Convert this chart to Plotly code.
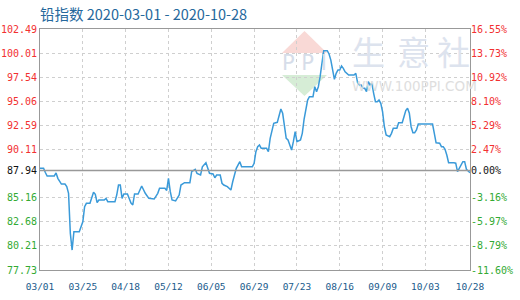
import datetime as dt
import plotly.graph_objects as go

# ---- data ----
start_date = "2020-03-01"
day_offsets = [0, 2, 3, 4, 8, 9, 10, 12, 14, 15, 16, 17, 18, 19, 22, 24, 25, 26, 28, 30,
               31, 32, 33, 36, 37, 38, 42, 43, 44, 45, 46, 47, 49, 50, 51, 52, 53, 55, 57, 59,
               61, 64, 66, 67, 70, 71, 72, 73, 74, 76, 78, 79, 81, 84, 85, 87, 88, 90, 91, 93,
               94, 95, 97, 98, 99, 101, 102, 103, 105, 107, 108, 110, 112, 113, 119, 120, 121, 122, 123, 124,
               127, 128, 129, 131, 133, 134, 135, 136, 137, 138, 139, 140, 141, 142, 143, 144, 146, 147, 148, 150,
               151, 153, 154, 155, 156, 157, 158, 159, 161, 162, 163, 164, 165, 166, 167, 168, 169, 170, 171, 173,
               176, 177, 178, 179, 180, 181, 182, 183, 184, 185, 186, 187, 188, 189, 190, 191, 192, 193, 194, 196,
               197, 198, 200, 201, 203, 204, 205, 206, 207, 208, 209, 210, 211, 212, 220, 221, 222, 224, 225, 226,
               227, 228, 229, 232, 233, 234, 235, 236, 237, 238, 239, 241]
index_values = [88.18, 88.18, 87.75, 87.39, 87.39, 87.70, 87.15, 86.56, 86.56, 86.29, 85.60, 81.50, 79.78, 81.66, 81.66, 82.69, 84.23, 84.58, 84.58, 85.71,
                85.50, 84.65, 84.92, 84.92, 85.09, 84.75, 84.75, 85.43, 86.46, 86.46, 85.09, 85.54, 85.54, 85.09, 84.60, 84.41, 85.54, 85.54, 86.36, 85.61,
                85.09, 85.02, 85.61, 86.12, 86.12, 85.90, 87.15, 85.80, 84.92, 84.82, 85.43, 86.46, 86.70, 86.70, 87.83, 88.08, 87.66, 87.49, 88.34, 88.75,
                88.24, 87.66, 87.60, 87.21, 87.49, 87.49, 86.64, 86.46, 86.29, 85.95, 86.80, 88.18, 88.86, 88.34, 88.34, 88.69, 89.88, 90.40, 90.57, 90.23,
                90.23, 89.88, 91.26, 92.80, 92.90, 93.65, 94.27, 93.83, 92.45, 91.26, 91.09, 90.57, 90.06, 90.91, 91.94, 90.91, 91.09, 91.77, 93.20, 95.19,
                95.53, 95.53, 96.56, 96.05, 96.56, 97.59, 98.79, 100.26, 100.26, 99.92, 99.30, 98.30, 97.32, 97.94, 98.28, 98.28, 98.69, 98.45, 98.10, 97.76,
                97.76, 97.94, 96.97, 96.74, 96.74, 96.40, 96.40, 96.05, 97.08, 96.74, 96.90, 95.88, 95.02, 95.02, 95.19, 94.86, 93.99, 92.45, 91.60, 91.43,
                91.77, 92.29, 92.29, 92.86, 92.86, 93.48, 94.10, 94.34, 93.83, 92.45, 91.84, 91.84, 92.11, 92.73, 92.73, 91.77, 90.80, 90.75, 90.40, 90.40,
                90.13, 89.54, 88.75, 88.75, 88.70, 87.83, 88.18, 88.62, 88.86, 88.86, 88.08, 87.73, 87.94]
base_value = 87.94
y_tick_values = [77.73, 80.21, 82.68, 85.16, 87.94, 90.11, 92.59, 95.06, 97.54, 100.01, 102.49]
y_tick_labels = ["77.73", "80.21", "82.68", "85.16", "87.94", "90.11", "92.59", "95.06", "97.54", "100.01", "102.49"]
pct_tick_labels = ["-11.60%", "-8.79%", "-5.97%", "-3.16%", "0.00%", "2.47%", "5.29%", "8.10%", "10.92%", "13.73%", "16.55%"]
x_tick_dates = ["2020-03-01", "2020-03-25", "2020-04-18", "2020-05-12", "2020-06-05", "2020-06-29",
                "2020-07-23", "2020-08-16", "2020-09-09", "2020-10-03", "2020-10-28"]
x_tick_labels = ["03/01", "03/25", "04/18", "05/12", "06/05", "06/29", "07/23", "08/16", "09/09", "10/03", "10/28"]
title_text = "铅指数 2020-03-01 - 2020-10-28"

# ---- build ----
d0 = dt.date.fromisoformat(start_date)
dates = [(d0 + dt.timedelta(days=d)).isoformat() for d in day_offsets]

RED = "#f23030"
GREEN = "#33aa33"
BLACK = "#111111"


def colored(labels, vals):
    out = []
    for lab, v in zip(labels, vals):
        c = BLACK if abs(v - base_value) < 1e-9 else (RED if v > base_value else GREEN)
        out.append(f'<span style="color:{c}">{lab}</span>')
    return out


fig = go.Figure()
fig.add_trace(go.Scatter(x=dates, y=index_values, mode="lines",
                         line=dict(color="#3a9ad9", width=1.5), hoverinfo="x+y", showlegend=False))
fig.add_trace(go.Scatter(x=dates, y=index_values, mode="lines", yaxis="y2",
                         line=dict(color="rgba(0,0,0,0)", width=0), hoverinfo="skip", showlegend=False))

yr = [y_tick_values[0], y_tick_values[-1]]
mono = "DejaVu Sans Mono"
grid = "#cfcfcf"
axc = "#999999"

fig.update_layout(
    width=520, height=300,
    margin=dict(l=40, r=50, t=29, b=30, autoexpand=False),
    paper_bgcolor="white", plot_bgcolor="white",
    title=dict(text=title_text, x=40 / 520, xanchor="left", y=1 - 15 / 300, yanchor="middle",
               font=dict(family="Noto Sans CJK SC", size=14.5, color="#25689c")),
    xaxis=dict(type="date", range=[x_tick_dates[0], x_tick_dates[-1]], automargin=False,
               tickvals=x_tick_dates, ticktext=x_tick_labels,
               tickfont=dict(family=mono, size=9.5, color="#1a5b8c"),
               ticks="outside", ticklen=8, tickcolor="rgba(0,0,0,0)",
               showgrid=True, gridcolor=grid, griddash="3px,3px", gridwidth=1,
               showline=True, linecolor=axc, linewidth=1, mirror=True, zeroline=False),
    yaxis=dict(range=yr, tickvals=y_tick_values, ticktext=colored(y_tick_labels, y_tick_values),
               tickfont=dict(family=mono, size=10), automargin=False,
               ticks="", showgrid=True, gridcolor=grid, griddash="3px,3px", gridwidth=1,
               showline=True, linecolor=axc, linewidth=1, mirror=True, zeroline=False),
    yaxis2=dict(range=yr, overlaying="y", side="right", tickvals=y_tick_values,
                ticktext=colored(pct_tick_labels, y_tick_values), automargin=False,
                tickfont=dict(family=mono, size=10), ticks="", showgrid=False,
                showline=False, zeroline=False),
)

# base line
fig.add_shape(type="line", xref="paper", x0=0, x1=1, yref="y", y0=base_value, y1=base_value,
              line=dict(color="#999999", width=1.5))

# watermark
def px(x, y):
    return (x - 40) / 430, (270 - y) / 241

r1, r2, r3 = px(282, 53), px(327, 53), px(304.5, 31)
fig.add_shape(type="path", xref="paper", yref="paper", layer="below",
              path=f"M {r1[0]} {r1[1]} L {r2[0]} {r2[1]} L {r3[0]} {r3[1]} Z",
              fillcolor="#f9d9d6", line=dict(width=0))
g1, g2, g3 = px(282, 75), px(327, 75), px(304.5, 96)
fig.add_shape(type="path", xref="paper", yref="paper", layer="below",
              path=f"M {g1[0]} {g1[1]} L {g2[0]} {g2[1]} L {g3[0]} {g3[1]} Z",
              fillcolor="#d6edd6", line=dict(width=0))
p = px(304.5, 63)
fig.add_annotation(text="P P I", xref="paper", yref="paper", x=p[0], y=p[1], showarrow=False,
                   xanchor="center", yanchor="middle",
                   font=dict(family="DejaVu Sans", size=21, color="#d6dde9"))
for ch, cx in zip(["生", "意", "社"], [368, 413, 453]):
    q = px(cx, 51)
    fig.add_annotation(text=ch, xref="paper", yref="paper", x=q[0], y=q[1], showarrow=False,
                       xanchor="center", yanchor="middle",
                       font=dict(family="Noto Sans CJK SC", size=33, color="#dde3ee"))
w = px(414, 86)
fig.add_annotation(text="WWW.100PPI.COM", xref="paper", yref="paper", x=w[0], y=w[1], showarrow=False,
                   xanchor="center", yanchor="middle",
                   font=dict(family="DejaVu Sans", size=13.5, color="#dedede"))

fig.write_html("out.html")
